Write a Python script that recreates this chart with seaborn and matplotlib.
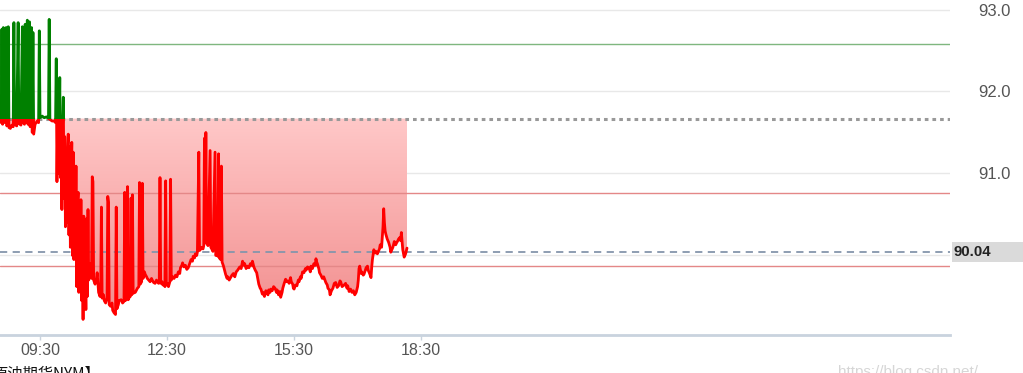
import numpy as np
import pandas as pd
import matplotlib
matplotlib.use("Agg")
import matplotlib.pyplot as plt
import seaborn as sns
from matplotlib.patches import Rectangle
from matplotlib.path import Path
from matplotlib.colors import LinearSegmentedColormap

# ---------------- data ----------------
# early session (around previous close, with upward spikes)
times_open = [
    "08:33", "08:35", "08:36", "08:37", "08:38", "08:39", "08:41", "08:42", "08:43", "08:44",
    "08:45", "08:46", "08:48", "08:50", "08:52", "08:53", "08:54", "08:57", "08:59", "09:00",
    "09:03", "09:05", "09:06", "09:08", "09:09", "09:10", "09:12", "09:13", "09:15", "09:16",
    "09:18", "09:19", "09:20", "09:21", "09:23", "09:26", "09:28", "09:29", "09:30", "09:33",
    "09:36", "09:39", "09:41", "09:42", "09:43", "09:44", "09:47", "09:50", "09:52",
]
prices_open = [
    91.62, 91.64, 92.76, 91.60, 92.78, 91.62, 91.63, 92.78, 91.58, 91.62,
    92.79, 91.56, 91.55, 91.59, 91.57, 92.84, 91.60, 91.58, 92.84, 91.61,
    91.59, 92.79, 91.62, 91.60, 92.82, 91.62, 92.87, 91.60, 92.85, 91.57,
    92.78, 91.50, 92.72, 91.48, 91.60, 91.64, 91.62, 92.74, 91.68, 91.70,
    91.68, 91.69, 91.68, 91.67, 92.88, 91.66, 91.64, 91.64, 91.62,
]
# sharp decline
times_drop = [
    "09:53", "09:54", "09:55", "09:56", "09:57", "09:58", "09:59", "10:00", "10:01", "10:02",
    "10:03", "10:04", "10:05", "10:06", "10:07", "10:08", "10:09", "10:10", "10:11", "10:12",
    "10:13", "10:14", "10:15", "10:16", "10:17", "10:18", "10:19", "10:20", "10:21", "10:22",
    "10:23", "10:24", "10:25", "10:26", "10:27", "10:28", "10:29", "10:30", "10:31", "10:32",
    "10:33", "10:34", "10:35", "10:36", "10:37", "10:38", "10:39", "10:40", "10:41", "10:42",
    "10:43", "10:44", "10:45", "10:46",
]
prices_drop = [
    92.40, 90.90, 91.60, 91.00, 91.50, 92.17, 90.95, 91.55, 90.56, 91.60,
    91.93, 90.70, 91.45, 90.35, 91.10, 90.40, 91.30, 91.48, 90.25, 91.33,
    90.10, 90.90, 91.38, 90.00, 91.26, 89.95, 90.80, 90.10, 91.09, 89.62,
    90.60, 90.77, 89.55, 90.30, 89.70, 90.68, 89.45, 90.20, 89.22, 90.48,
    89.35, 89.90, 89.34, 90.45, 89.50, 90.56, 89.70, 89.80, 89.74, 89.90,
    89.72, 90.96, 90.90, 89.70,
]
# late morning / midday with spikes
times_mid = [
    "10:48", "10:50", "10:51", "10:53", "10:55", "10:56", "10:57", "10:58", "11:00", "11:01",
    "11:03", "11:05", "11:06", "11:07", "11:08", "11:10", "11:12", "11:13", "11:15", "11:17",
    "11:18", "11:19", "11:21", "11:22", "11:25", "11:27", "11:29", "11:30", "11:31", "11:33",
    "11:34", "11:35", "11:37", "11:38", "11:39", "11:40", "11:41", "11:42", "11:45", "11:48",
    "11:50", "11:51", "11:52", "11:54", "11:55", "11:56", "11:58", "11:59", "12:01", "12:02",
    "12:04", "12:06", "12:08", "12:09", "12:11", "12:13", "12:15", "12:16", "12:18", "12:19",
    "12:20", "12:21", "12:23", "12:24", "12:26", "12:27", "12:28", "12:29", "12:31", "12:32",
    "12:34", "12:35", "12:36", "12:38", "12:40", "12:42", "12:44", "12:46", "12:48", "12:49",
    "12:51", "12:52", "12:54", "12:56", "12:58", "13:00", "13:02", "13:04", "13:06", "13:07",
    "13:09", "13:10", "13:12", "13:13", "13:15", "13:16", "13:18", "13:19", "13:21", "13:22",
    "13:23", "13:24", "13:25", "13:26", "13:28", "13:31", "13:32", "13:34", "13:35", "13:38",
    "13:39", "13:41", "13:42", "13:43", "13:44", "13:46", "13:47", "13:48",
]
prices_mid = [
    89.65, 89.72, 89.79, 89.55, 89.50, 89.60, 90.59, 89.48, 89.52, 89.45,
    89.42, 89.48, 90.72, 90.65, 89.40, 89.38, 89.42, 89.33, 89.30, 89.28,
    90.59, 89.35, 89.40, 89.45, 89.46, 89.42, 89.44, 90.77, 89.45, 89.48,
    90.84, 89.46, 89.50, 89.50, 90.70, 89.52, 90.74, 89.54, 89.55, 89.60,
    89.62, 90.89, 89.65, 89.68, 90.88, 89.72, 89.80, 89.77, 89.74, 89.72,
    89.70, 89.68, 89.72, 89.70, 89.67, 89.66, 89.70, 89.68, 89.66, 89.70,
    90.95, 89.66, 89.68, 89.64, 89.66, 89.62, 90.91, 89.64, 89.66, 89.62,
    89.68, 90.93, 89.70, 89.74, 89.72, 89.76, 89.74, 89.80, 89.78, 89.85,
    89.88, 89.91, 89.86, 89.88, 89.83, 89.85, 89.90, 89.95, 89.93, 89.99,
    89.97, 90.02, 90.00, 90.04, 91.26, 90.06, 90.08, 90.10, 90.08, 90.12,
    91.43, 90.15, 91.50, 90.17, 90.12, 91.28, 90.10, 90.07, 90.05, 91.26,
    90.00, 90.02, 89.99, 91.24, 89.97, 89.95, 91.09, 89.92,
]
# afternoon / evening
times_late = [
    "13:50", "13:52", "13:53", "13:55", "13:56", "13:58", "14:00", "14:02", "14:04", "14:06",
    "14:08", "14:10", "14:13", "14:15", "14:17", "14:19", "14:20", "14:22", "14:24", "14:26",
    "14:28", "14:30", "14:31", "14:33", "14:35", "14:37", "14:39", "14:40", "14:42", "14:43",
    "14:45", "14:46", "14:48", "14:50", "14:51", "14:53", "14:54", "14:56", "14:57", "14:59",
    "15:01", "15:03", "15:05", "15:06", "15:08", "15:10", "15:11", "15:13", "15:14", "15:16",
    "15:18", "15:19", "15:21", "15:23", "15:25", "15:26", "15:28", "15:29", "15:30", "15:32",
    "15:34", "15:36", "15:37", "15:39", "15:40", "15:42", "15:44", "15:46", "15:47", "15:49",
    "15:51", "15:53", "15:54", "15:56", "15:58", "16:00", "16:01", "16:02", "16:03", "16:05",
    "16:06", "16:08", "16:10", "16:12", "16:15", "16:17", "16:18", "16:20", "16:21", "16:23",
    "16:25", "16:27", "16:29", "16:31", "16:33", "16:35", "16:36", "16:38", "16:41", "16:43",
    "16:45", "16:46", "16:48", "16:50", "16:52", "16:54", "16:56", "16:58", "17:00", "17:01",
    "17:02", "17:03", "17:05", "17:06", "17:08", "17:09", "17:11", "17:12", "17:14", "17:15",
    "17:17", "17:19", "17:20", "17:21", "17:23", "17:25", "17:26", "17:28", "17:29", "17:31",
    "17:32", "17:34", "17:36", "17:37", "17:38", "17:39", "17:40", "17:42", "17:44", "17:46",
    "17:47", "17:49", "17:50", "17:52", "17:54", "17:55", "17:57", "17:58", "18:00", "18:01",
    "18:02", "18:04", "18:06", "18:08", "18:10",
]
prices_late = [
    89.87, 89.80, 89.77, 89.72, 89.74, 89.70, 89.73, 89.76, 89.78, 89.74,
    89.80, 89.82, 89.86, 89.84, 89.93, 89.88, 89.90, 89.84, 89.87, 89.85,
    89.90, 89.88, 89.93, 89.86, 89.82, 89.79, 89.70, 89.65, 89.60, 89.59,
    89.53, 89.55, 89.50, 89.57, 89.56, 89.52, 89.58, 89.55, 89.59, 89.57,
    89.62, 89.60, 89.55, 89.58, 89.52, 89.56, 89.49, 89.55, 89.60, 89.66,
    89.71, 89.68, 89.69, 89.66, 89.73, 89.68, 89.65, 89.60, 89.59, 89.64,
    89.63, 89.70, 89.68, 89.74, 89.72, 89.80, 89.79, 89.84, 89.82, 89.86,
    89.85, 89.80, 89.87, 89.84, 89.90, 89.88, 89.96, 89.92, 89.90, 89.84,
    89.79, 89.76, 89.72, 89.74, 89.67, 89.64, 89.60, 89.58, 89.52, 89.57,
    89.60, 89.66, 89.67, 89.61, 89.63, 89.69, 89.68, 89.62, 89.64, 89.66,
    89.60, 89.63, 89.56, 89.59, 89.55, 89.57, 89.52, 89.55, 89.62, 89.70,
    89.84, 89.87, 89.78, 89.80, 89.76, 89.77, 89.82, 89.85, 89.87, 89.82,
    89.78, 89.73, 89.86, 89.95, 90.07, 90.03, 90.05, 90.02, 90.04, 90.08,
    90.13, 90.10, 90.35, 90.57, 90.40, 90.30, 90.26, 90.20, 90.16, 90.10,
    90.04, 90.08, 90.10, 90.17, 90.13, 90.15, 90.18, 90.20, 90.22, 90.18,
    90.28, 90.07, 89.98, 90.02, 90.09,
]
prev_close = 91.67
last_price = 90.04
upper_limit = 92.585
mid_line = 90.756
lower_line = 89.866
ytick_values = [90.0, 91.0, 92.0, 93.0]
xtick_labels = ["09:30", "12:30", "15:30", "18:30"]
title_text = "原油期货NYM】"
watermark_text = "https://blog.csdn.net/"

times = times_open + times_drop + times_mid + times_late
prices = prices_open + prices_drop + prices_mid + prices_late
assert len(times) == len(prices)

# ---------------- figure ----------------
sns.set_theme(style="white")
plt.rcParams["font.family"] = ["Liberation Sans", "DejaVu Sans"]

W, H = 1023, 373
fig = plt.figure(figsize=(W / 100, H / 100), dpi=100)
ax = fig.add_axes([0, 38 / H, 950 / W, 335 / H])


def to_hours(t):
    h, m = t.split(":")
    return int(h) + int(m) / 60.0


df = pd.DataFrame({"t": [to_hours(t) for t in times], "price": prices})
x0, x1 = 8.555, 30.99
y0, y1 = 89.030, 93.116

# gradient fill between previous close and the line (below)
xs = df["t"].to_numpy()
ys = df["price"].to_numpy()
poly = ax.fill_between(xs, ys, prev_close, where=ys < prev_close, interpolate=True,
                       facecolor="none", edgecolor="none")
compound = Path.make_compound_path(*poly.get_paths())
cmap = LinearSegmentedColormap.from_list("pinkgrad", ["#f28e8e", "#ffc8c8"])
grad = np.linspace(0, 1, 256).reshape(-1, 1)
im = ax.imshow(grad, extent=[x0, x1, 89.2, prev_close], aspect="auto", cmap=cmap,
               origin="lower", zorder=1, interpolation="bilinear")
im.set_clip_path(compound, ax.transData)

# reference lines
ax.axhline(upper_limit, color="#7fb77f", lw=1.0, zorder=2)
ax.axhline(mid_line, color="#e48888", lw=1.0, zorder=2)
ax.axhline(lower_line, color="#e48888", lw=1.0, zorder=2)
ax.axhline(prev_close, color="#999999", lw=2.2, ls=(0, (1.2, 1.3)), zorder=2)
ax.axhline(last_price, color="#8595ab", lw=1.3, ls=(0, (4, 3)), zorder=2)

# price line: green above previous close, red below
sns.lineplot(data=df, x="t", y="price", ax=ax, color="#ff0000", lw=2.0,
             estimator=None, sort=False, zorder=3)
sns.lineplot(data=df, x="t", y="price", ax=ax, color="#008000", lw=2.0,
             estimator=None, sort=False, zorder=3)
red_line, green_line = ax.lines[-2], ax.lines[-1]
red_clip = Rectangle((x0 - 5, y0 - 5), 50, prev_close - y0 + 5, transform=ax.transData)
green_clip = Rectangle((x0 - 5, prev_close), 50, 10, transform=ax.transData)
red_line.set_clip_path(red_clip)
green_line.set_clip_path(green_clip)

ax.set_xlim(x0, x1)
ax.set_ylim(y0, y1)

# axes styling
for s in ["top", "left", "right"]:
    ax.spines[s].set_visible(False)
ax.spines["bottom"].set_color("#c9d3de")
ax.spines["bottom"].set_linewidth(2)
ax.set_xlabel("")
ax.set_ylabel("")
ax.grid(axis="y", color="#e8e8e8", lw=1)
ax.grid(axis="x", visible=False)
ax.set_axisbelow(True)

ax.set_xticks([to_hours(t) for t in xtick_labels])
ax.set_xticklabels(xtick_labels)
ax.tick_params(axis="x", bottom=True, length=3.5, width=1, color="#c9d3de",
               pad=2, labelsize=11.5, labelcolor="#555555")
ax.yaxis.tick_right()
ax.set_yticks(ytick_values)
# the 90.0 label sits under the last-price box
ax.set_yticklabels(["" if abs(v - round(last_price)) < 1e-9 else f"{v:.1f}"
                    for v in ytick_values])
ax.tick_params(axis="y", right=True, length=0, pad=20, labelsize=12,
               labelcolor="#555555")

# last price box
fig.patches.append(Rectangle((952 / W, (H - 262) / H), (W - 952) / W, 20 / H,
                             transform=fig.transFigure, facecolor="#dadada",
                             edgecolor="none", zorder=5))
fig.text(954 / W, (H - 252) / H, f"{last_price:.2f}", ha="left", va="center",
         fontsize=10.8, fontweight="bold", color="#222222", zorder=6)

# bottom texts (partly cut off by the image border, as in the source)
fig.text(-8 / W, (H - 365) / H, title_text, ha="left", va="top", fontsize=11,
         color="#111111", family=["Noto Sans CJK SC", "DejaVu Sans"])
fig.text(838 / W, (H - 365) / H, watermark_text, ha="left", va="top", fontsize=11,
         color="#d6d6d6")

fig.savefig("out.png", dpi=100)
